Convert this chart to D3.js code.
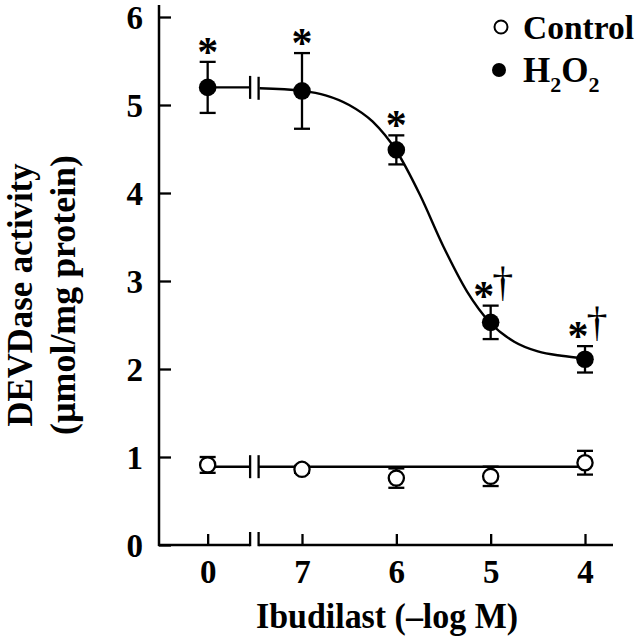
<!DOCTYPE html>
<html><head><meta charset="utf-8">
<script src="https://cdn.jsdelivr.net/npm/d3@7/dist/d3.min.js"></script>
<style>body{margin:0;background:#fff}svg{display:block}</style>
</head><body>
<svg id="chart" width="638" height="640"></svg>
<script>
// ---- data ----
const categories = ["0", "7", "6", "5", "4"];        // tick labels (-log M); "0" = no ibudilast
const xPos = [8, 7, 6, 5, 4];                         // plotting position for each category
const yTicks = [0, 1, 2, 3, 4, 5, 6];
const h2o2Mean = [5.20, 5.16, 4.49, 2.53, 2.11];
const h2o2Err  = [0.29, 0.43, 0.165, 0.19, 0.15];
const ctrlMean = [0.91, 0.86, 0.76, 0.78, 0.935];
const ctrlErr  = [0.09, 0.04, 0.11, 0.11, 0.135];
const marks    = ["*", "*", "*", "*†", "*†"];
// fitted curve for H2O2
const fitX = [7.45, 7.0, 6.75, 6.5, 6.25, 6.0, 5.75, 5.5, 5.25, 5.0, 4.75, 4.5, 4.25, 4.0];
const fitY = [5.19, 5.16, 5.11, 5.00, 4.81, 4.48, 3.98, 3.39, 2.88, 2.52, 2.31, 2.20, 2.15, 2.12];
const h2o2Base = 5.20;   // level left of break
const ctrlFit = 0.89;    // control fit level
const breakX = [7.55, 7.46];

// ---- setup ----
const svg = d3.select("#chart");
const font = "'Liberation Serif','Times New Roman',Times,serif";
const x = d3.scaleLinear().domain([7, 4]).range([302, 585]);
const y = d3.scaleLinear().domain([0, 6]).range([545, 17]);
const axisX0 = 159;

// y axis
const gy = svg.append("g").attr("transform", `translate(${axisX0},0)`)
  .call(d3.axisLeft(y).tickValues(yTicks).tickFormat(d3.format("d"))
    .tickSizeInner(-12).tickSizeOuter(0).tickPadding(16));
gy.select(".domain").remove();
gy.selectAll(".tick line").attr("stroke", "#000").attr("stroke-width", 2.3);
gy.selectAll(".tick text").attr("font-family", font).attr("font-weight", "bold")
  .attr("font-size", 33).attr("fill", "#000").attr("dy", "0.34em");
svg.append("line").attr("x1", axisX0).attr("x2", axisX0).attr("y1", 5).attr("y2", y(0) + 1)
  .attr("stroke", "#000").attr("stroke-width", 2.5);

// x axis
const gx = svg.append("g").attr("transform", `translate(0,${y(0)})`)
  .call(d3.axisBottom(x).tickValues(xPos).tickFormat((d, i) => categories[i])
    .tickSizeInner(-11).tickSizeOuter(0).tickPadding(15));
gx.select(".domain").remove();
gx.selectAll(".tick line").attr("stroke", "#000").attr("stroke-width", 2.3);
gx.selectAll(".tick text").attr("font-family", font).attr("font-weight", "bold")
  .attr("font-size", 33).attr("fill", "#000");
svg.append("line").attr("x1", axisX0 - 1).attr("x2", x(breakX[0])).attr("y1", y(0)).attr("y2", y(0))
  .attr("stroke", "#000").attr("stroke-width", 2.5);
svg.append("line").attr("x1", x(breakX[1])).attr("x2", 613).attr("y1", y(0)).attr("y2", y(0))
  .attr("stroke", "#000").attr("stroke-width", 2.5);
breakX.forEach(b => svg.append("line").attr("x1", x(b)).attr("x2", x(b))
  .attr("y1", y(0) - 13).attr("y2", y(0) + 1.2).attr("stroke", "#000").attr("stroke-width", 2.3));

// axis titles
svg.append("text").attr("x", 387).attr("y", 628).attr("text-anchor", "middle")
  .attr("font-family", font).attr("font-weight", "bold").attr("font-size", 35)
  .attr("textLength", 262).attr("lengthAdjust", "spacingAndGlyphs")
  .text("Ibudilast (–log M)");
const yt = svg.append("g").attr("transform", "translate(0,295) rotate(-90)");
yt.append("text").attr("x", 0).attr("y", 32).attr("text-anchor", "middle")
  .attr("font-family", font).attr("font-weight", "bold").attr("font-size", 35)
  .attr("textLength", 263).attr("lengthAdjust", "spacingAndGlyphs")
  .text("DEVDase activity");
yt.append("text").attr("x", 0).attr("y", 75).attr("text-anchor", "middle")
  .attr("font-family", font).attr("font-weight", "bold").attr("font-size", 35)
  .attr("textLength", 280).attr("lengthAdjust", "spacingAndGlyphs")
  .text("(µmol/mg protein)");

// ---- fit lines ----
const lineGen = d3.line().x(d => x(d[0])).y(d => y(d[1])).curve(d3.curveMonotoneX);
const fitPts = fitX.map((v, i) => [v, fitY[i]]);
const lineStyle = sel => sel.attr("fill", "none").attr("stroke", "#000").attr("stroke-width", 2.4);
svg.append("path").datum(fitPts).attr("d", lineGen).call(lineStyle);
svg.append("path").datum([[xPos[0], h2o2Base], [breakX[0], h2o2Base]]).attr("d", lineGen).call(lineStyle);
svg.append("path").datum([[xPos[0], ctrlFit], [breakX[0], ctrlFit]]).attr("d", lineGen).call(lineStyle);
svg.append("path").datum([[breakX[1], ctrlFit], [xPos[4], ctrlFit]]).attr("d", lineGen).call(lineStyle);
// break marks on lines
[[h2o2Base, fitY[0]], [ctrlFit, ctrlFit]].forEach(lv => {
  breakX.forEach((b, j) => svg.append("line").attr("x1", x(b)).attr("x2", x(b))
    .attr("y1", y(lv[j]) - 11.5).attr("y2", y(lv[j]) + 11.5)
    .attr("stroke", "#000").attr("stroke-width", 2.3));
});

// ---- error bars ----
function errorBars(mean, err) {
  const g = svg.append("g").attr("stroke", "#000").attr("stroke-width", 2.3);
  mean.forEach((m, i) => {
    const cx = x(xPos[i]);
    g.append("line").attr("x1", cx).attr("x2", cx).attr("y1", y(m - err[i])).attr("y2", y(m + err[i]));
    [m - err[i], m + err[i]].forEach(v => g.append("line")
      .attr("x1", cx - 8).attr("x2", cx + 8).attr("y1", y(v)).attr("y2", y(v)));
  });
}
errorBars(h2o2Mean, h2o2Err);
errorBars(ctrlMean, ctrlErr);

// ---- points ----
svg.append("g").selectAll("circle").data(ctrlMean).join("circle")
  .attr("cx", (d, i) => x(xPos[i])).attr("cy", d => y(d)).attr("r", 7.6)
  .attr("fill", "#fff").attr("stroke", "#000").attr("stroke-width", 2.3);
svg.append("g").selectAll("circle").data(h2o2Mean).join("circle")
  .attr("cx", (d, i) => x(xPos[i])).attr("cy", d => y(d)).attr("r", 8.8).attr("fill", "#000");

// ---- significance marks ----
marks.forEach((m, i) => {
  const cx = x(xPos[i]);
  const topY = y(h2o2Mean[i] + h2o2Err[i]);
  const hasDagger = m.includes("†");
  svg.append("text").attr("x", cx + (hasDagger ? -7 : 0)).attr("y", topY + 4)
    .attr("text-anchor", "middle").attr("font-family", font).attr("font-weight", "bold")
    .attr("font-size", 42).text("*");
  if (hasDagger) svg.append("text").attr("x", cx + 12).attr("y", topY - 10)
    .attr("text-anchor", "middle").attr("font-family", font)
    .attr("font-size", 42).text("†");
});

// ---- legend ----
const lg = svg.append("g");
lg.append("circle").attr("cx", 501).attr("cy", 27).attr("r", 6.5)
  .attr("fill", "#fff").attr("stroke", "#000").attr("stroke-width", 2);
lg.append("text").attr("x", 523).attr("y", 39).attr("font-family", font).attr("font-weight", "bold")
  .attr("font-size", 34).attr("textLength", 111).attr("lengthAdjust", "spacingAndGlyphs").text("Control");
lg.append("circle").attr("cx", 499).attr("cy", 70).attr("r", 7).attr("fill", "#000");
const ht = lg.append("text").attr("x", 523).attr("y", 82).attr("font-family", font)
  .attr("font-weight", "bold").attr("font-size", 35);
ht.append("tspan").text("H");
ht.append("tspan").attr("font-size", 22).attr("dy", 10).text("2");
ht.append("tspan").attr("dy", -10).text("O");
ht.append("tspan").attr("font-size", 22).attr("dy", 10).text("2");
</script>
</body></html>
